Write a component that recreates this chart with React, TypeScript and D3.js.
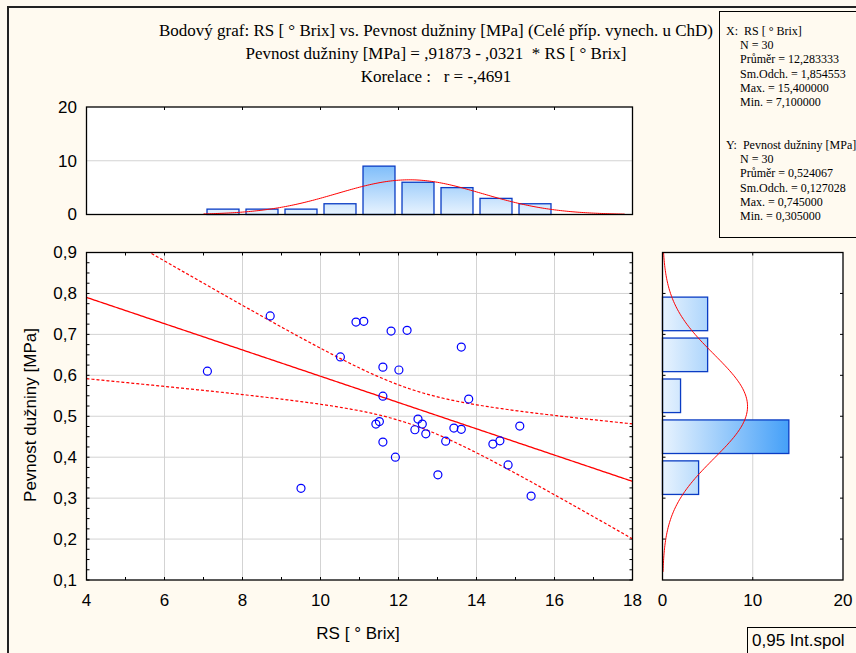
import React from "react";
import * as d3 from "d3";

// ---- data ----
const rsBrix = [10.91, 11.11, 11.81, 12.22, 13.61, 10.51, 11.6, 12.01, 11.6, 13.8, 12.5, 12.61, 11.51, 11.42, 12.42, 12.7, 13.42, 13.61, 15.11, 11.6, 13.21, 14.42, 14.6, 11.92, 14.81, 13.01, 15.4, 7.1, 8.71, 9.5];
const pevnost = [0.73, 0.732, 0.708, 0.71, 0.669, 0.645, 0.62, 0.613, 0.549, 0.542, 0.493, 0.481, 0.487, 0.481, 0.467, 0.457, 0.471, 0.468, 0.476, 0.437, 0.439, 0.432, 0.44, 0.4, 0.381, 0.357, 0.305, 0.61, 0.745, 0.324];

const xBinStarts = [7, 8, 9, 10, 11, 12, 13, 14, 15];
const xBinCounts = [1, 1, 1, 2, 9, 6, 5, 3, 2];
const xBinWidth = 1;
const yBinStarts = [0.3, 0.4, 0.5, 0.6, 0.7];
const yBinCounts = [4, 14, 2, 5, 5];
const yBinWidth = 0.1;

const nObs = 30;
const meanX = 12.283333;
const sdX = 1.854553;
const meanY = 0.524067;
const sdY = 0.127028;
const corrR = -0.4691;
const intercept = 0.91873;
const slope = -0.0321;
const tCrit = 2.0484;

const xTicks = [4, 6, 8, 10, 12, 14, 16, 18];
const yTicks = [0.1, 0.2, 0.3, 0.4, 0.5, 0.6, 0.7, 0.8, 0.9];
const histCountTicks = [0, 10, 20];

const titleLines = [
  "Bodový graf: RS [ ° Brix] vs. Pevnost dužniny [MPa] (Celé příp. vynech. u ChD)",
  "Pevnost dužniny [MPa] = ,91873 - ,0321  * RS [ ° Brix]",
  "Korelace :   r = -,4691",
];
const statsLinesX = ["X:  RS [ ° Brix]", "N = 30", "Průměr = 12,283333", "Sm.Odch. = 1,854553", "Max. = 15,400000", "Min. = 7,100000"];
const statsLinesY = ["Y:  Pevnost dužniny [MPa]", "N = 30", "Průměr = 0,524067", "Sm.Odch. = 0,127028", "Max. = 0,745000", "Min. = 0,305000"];

const fmt = (v: number) => String(v).replace(".", ",");

export default function App() {
  const W = 856, H = 653;
  const sans = "'Liberation Sans', Arial, sans-serif";
  const serif = "'Liberation Serif', 'Times New Roman', serif";

  // main plot
  const x = d3.scaleLinear().domain([4, 18]).range([86.5, 632.5]);
  const y = d3.scaleLinear().domain([0.1, 0.9]).range([580, 252.5]);
  // top histogram
  const hy = d3.scaleLinear().domain([0, 20]).range([214.5, 107]);
  // right histogram
  const hx = d3.scaleLinear().domain([0, 20]).range([662.5, 843]);

  const pdf = (v: number, m: number, s: number) => Math.exp(-0.5 * ((v - m) / s) ** 2) / (s * Math.sqrt(2 * Math.PI));

  // regression & confidence bands
  const sxx = (nObs - 1) * sdX * sdX;
  const sse = (nObs - 1) * sdY * sdY * (1 - corrR * corrR);
  const se = Math.sqrt(sse / (nObs - 2));
  const xs = d3.range(4, 18.001, 0.05);
  const half = (v: number) => tCrit * se * Math.sqrt(1 / nObs + (v - meanX) ** 2 / sxx);
  const line = d3.line<number>().x((v) => x(v)).y((v) => y(intercept + slope * v));
  const upper = d3.line<number>().x((v) => x(v)).y((v) => y(intercept + slope * v + half(v)));
  const lower = d3.line<number>().x((v) => x(v)).y((v) => y(intercept + slope * v - half(v)));

  const topCurveX = d3.range(7.0, 17.8001, 0.05);
  const topCurve = d3.line<number>().x((v) => x(v)).y((v) => hy(nObs * xBinWidth * pdf(v, meanX, sdX)));
  const rightCurveY = d3.range(0.12, 0.9001, 0.004);
  const rightCurve = d3.line<number>().x((v) => hx(nObs * yBinWidth * pdf(v, meanY, sdY))).y((v) => y(v));

  const grid = "#d3d3d3";
  const barStroke = "#0a3cc4";

  const minorX = d3.range(4, 18.001, 1);
  const minorY = d3.range(0.1, 0.9001, 0.025);

  return (
    <svg width={W} height={H} style={{ position: "absolute", left: 0, top: 0, display: "block" }}>
      <defs>
        <linearGradient id="gTop" gradientUnits="userSpaceOnUse" x1="0" y1={hy(0)} x2="0" y2={hy(14)}>
          <stop offset="0" stopColor="#e8f3fe" />
          <stop offset="1" stopColor="#45a0f8" />
        </linearGradient>
        <linearGradient id="gRight" gradientUnits="userSpaceOnUse" x1={hx(0)} y1="0" x2={hx(14)} y2="0">
          <stop offset="0" stopColor="#e8f3fe" />
          <stop offset="1" stopColor="#45a0f8" />
        </linearGradient>
        <clipPath id="clipMain">
          <rect x={x(4)} y={y(0.9)} width={x(18) - x(4)} height={y(0.1) - y(0.9)} />
        </clipPath>
      </defs>
      <rect x={0} y={0} width={W} height={H} fill="#fffaf0" />
      {/* outer frame */}
      <path d={`M8,${H + 5} V7 H${W + 5}`} fill="none" stroke="#222" strokeWidth={2} />

      {/* titles */}
      {titleLines.map((t, i) => (
        <text key={i} x={436} y={36 + i * 23} textAnchor="middle" fontFamily={serif} fontSize={17} fill="#000" style={{ whiteSpace: "pre" }}>
          {t}
        </text>
      ))}

      {/* stats box */}
      <rect x={719.5} y={11.5} width={150} height={226} fill="#fffaf0" stroke="#000" strokeWidth={1} />
      {statsLinesX.map((t, i) => (
        <text key={"sx" + i} x={i === 0 ? 726 : 740} y={35 + i * 14.2} fontFamily={serif} fontSize={12} fill="#000" style={{ whiteSpace: "pre" }}>
          {t}
        </text>
      ))}
      {statsLinesY.map((t, i) => (
        <text key={"sy" + i} x={i === 0 ? 726 : 740} y={149 + i * 14.2} fontFamily={serif} fontSize={12} fill="#000" style={{ whiteSpace: "pre" }}>
          {t}
        </text>
      ))}

      {/* ---- top histogram ---- */}
      <rect x={x(4)} y={hy(20)} width={x(18) - x(4)} height={hy(0) - hy(20)} fill="#fff" />
      <line x1={x(4)} x2={x(18)} y1={hy(10)} y2={hy(10)} stroke={grid} />
      {xBinStarts.map((b, i) => {
        const c = b + xBinWidth / 2;
        const x0 = x(c - 0.41 * xBinWidth), x1 = x(c + 0.41 * xBinWidth);
        return (
          <rect key={i} x={x0} y={hy(xBinCounts[i])} width={x1 - x0} height={hy(0) - hy(xBinCounts[i])} fill="url(#gTop)" stroke={barStroke} strokeWidth={1.3} />
        );
      })}
      <path d={topCurve(topCurveX) || ""} fill="none" stroke="#ff0000" strokeWidth={1} />
      {[6, 8, 10, 12, 14, 16].map((t) => (
        <line key={t} x1={x(t)} x2={x(t)} y1={hy(20)} y2={hy(20) + 3} stroke="#000" />
      ))}
      <rect x={x(4)} y={hy(20)} width={x(18) - x(4)} height={hy(0) - hy(20)} fill="none" stroke="#000" strokeWidth={1.3} />
      {histCountTicks.map((t) => (
        <text key={t} x={77} y={hy(t)} dy="0.35em" textAnchor="end" fontFamily={sans} fontSize={17} fill="#000">
          {t}
        </text>
      ))}

      {/* ---- main scatter ---- */}
      <rect x={x(4)} y={y(0.9)} width={x(18) - x(4)} height={y(0.1) - y(0.9)} fill="#fff" />
      {xTicks.slice(1, -1).map((t) => (
        <line key={"gx" + t} x1={x(t)} x2={x(t)} y1={y(0.9)} y2={y(0.1)} stroke={grid} />
      ))}
      {yTicks.slice(1, -1).map((t) => (
        <line key={"gy" + t} x1={x(4)} x2={x(18)} y1={y(t)} y2={y(t)} stroke={grid} />
      ))}
      {minorX.map((t) => (
        <g key={"mx" + t}>
          <line x1={x(t)} x2={x(t)} y1={y(0.9)} y2={y(0.9) + 3} stroke="#000" />
          <line x1={x(t)} x2={x(t)} y1={y(0.1)} y2={y(0.1) - 3} stroke="#000" />
        </g>
      ))}
      {minorY.map((t, i) => (
        <g key={"my" + i}>
          <line x1={x(4)} x2={x(4) + 3} y1={y(t)} y2={y(t)} stroke="#000" />
          <line x1={x(18)} x2={x(18) - 3} y1={y(t)} y2={y(t)} stroke="#000" />
        </g>
      ))}
      <g clipPath="url(#clipMain)">
        <path d={upper(xs) || ""} fill="none" stroke="#ff0000" strokeWidth={1.2} strokeDasharray="3,2" />
        <path d={lower(xs) || ""} fill="none" stroke="#ff0000" strokeWidth={1.2} strokeDasharray="3,2" />
        <path d={line(xs) || ""} fill="none" stroke="#ff0000" strokeWidth={1.3} />
      </g>
      {rsBrix.map((v, i) => (
        <circle key={i} cx={x(v)} cy={y(pevnost[i])} r={4} fill="none" stroke="#0000ff" strokeWidth={1.2} />
      ))}
      <rect x={x(4)} y={y(0.9)} width={x(18) - x(4)} height={y(0.1) - y(0.9)} fill="none" stroke="#000" strokeWidth={1.3} />
      {yTicks.map((t) => (
        <text key={"ly" + t} x={77} y={y(t)} dy="0.35em" textAnchor="end" fontFamily={sans} fontSize={17} fill="#000">
          {fmt(t)}
        </text>
      ))}
      {xTicks.map((t) => (
        <text key={"lx" + t} x={x(t)} y={606} textAnchor="middle" fontFamily={sans} fontSize={17} fill="#000">
          {t}
        </text>
      ))}
      <text x={358} y={639} textAnchor="middle" fontFamily={sans} fontSize={17} fill="#000" style={{ whiteSpace: "pre" }}>
        RS [ ° Brix]
      </text>
      <text transform={`translate(36,415) rotate(-90)`} textAnchor="middle" fontFamily={sans} fontSize={17} fill="#000">
        Pevnost dužniny [MPa]
      </text>

      {/* ---- right histogram ---- */}
      <rect x={hx(0)} y={y(0.9)} width={hx(20) - hx(0)} height={y(0.1) - y(0.9)} fill="#fff" />
      <line x1={hx(10)} x2={hx(10)} y1={y(0.9)} y2={y(0.1)} stroke={grid} />
      {yBinStarts.map((b, i) => {
        const c = b + yBinWidth / 2;
        const y0 = y(c + 0.41 * yBinWidth), y1 = y(c - 0.41 * yBinWidth);
        return (
          <rect key={i} x={hx(0)} y={y0} width={hx(yBinCounts[i]) - hx(0)} height={y1 - y0} fill="url(#gRight)" stroke={barStroke} strokeWidth={1.3} />
        );
      })}
      <path d={rightCurve(rightCurveY) || ""} fill="none" stroke="#ff0000" strokeWidth={1} />
      {yTicks.slice(1, -1).map((t) => (
        <g key={"rt" + t}>
          <line x1={hx(0)} x2={hx(0) + 3} y1={y(t)} y2={y(t)} stroke="#000" />
          <line x1={hx(20)} x2={hx(20) - 3} y1={y(t)} y2={y(t)} stroke="#000" />
        </g>
      ))}
      <line x1={hx(10)} x2={hx(10)} y1={y(0.9)} y2={y(0.9) + 3} stroke="#000" />
      <line x1={hx(10)} x2={hx(10)} y1={y(0.1)} y2={y(0.1) - 3} stroke="#000" />
      <rect x={hx(0)} y={y(0.9)} width={hx(20) - hx(0)} height={y(0.1) - y(0.9)} fill="none" stroke="#000" strokeWidth={1.3} />
      {histCountTicks.map((t) => (
        <text key={"rx" + t} x={hx(t)} y={606} textAnchor="middle" fontFamily={sans} fontSize={17} fill="#000">
          {t}
        </text>
      ))}

      {/* legend box */}
      <rect x={747.5} y={627.5} width={130} height={40} fill="#fffaf0" stroke="#000" strokeWidth={1} />
      <text x={752} y={646} fontFamily={sans} fontSize={17} fill="#000">
        0,95 Int.spol
      </text>
    </svg>
  );
}
